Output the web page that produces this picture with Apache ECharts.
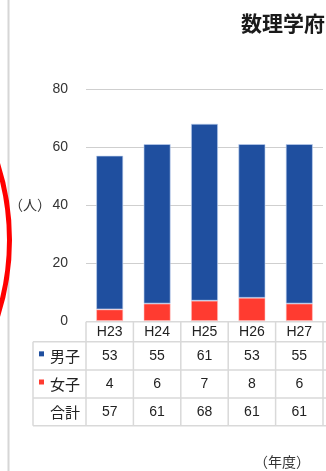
<!DOCTYPE html>
<html>
<head>
<meta charset="utf-8">
<script src="https://cdn.jsdelivr.net/npm/echarts@6/dist/echarts.min.js"></script>
<style>
  html, body { margin: 0; padding: 0; background: #fff; overflow: hidden; }
  #chart { width: 326px; height: 471px; }
</style>
</head>
<body>
<div id="chart"></div>
<script>
// Enrolment by year (persons)
const categories = ['H23', 'H24', 'H25', 'H26', 'H27'];
const maleValues = [53, 55, 61, 53, 55];
const femaleValues = [4, 6, 7, 8, 6];
const totalValues = [57, 61, 68, 61, 61];
const rowLabels = ['男子', '女子', '合計'];
const yTicks = { min: 0, max: 80, step: 20 };

const BLUE = '#1f4f9f';
const RED = '#ff3b30';
const FONT = '"Liberation Sans", "Noto Sans CJK JP", sans-serif';
const CJK = '"Noto Sans CJK JP", sans-serif';

const gridLeft = 86, gridTop = 89, gridWidth = 237, gridHeight = 232;

const chart = echarts.init(document.getElementById('chart'), null, { renderer: 'canvas' });

chart.setOption({
  animation: false,
  backgroundColor: '#fff',
  grid: { left: gridLeft, top: gridTop, width: gridWidth, height: gridHeight, containLabel: false },
  xAxis: {
    type: 'category',
    data: categories,
    axisLine: { show: false },
    axisTick: { show: false },
    axisLabel: { show: false }
  },
  yAxis: {
    type: 'value',
    min: yTicks.min,
    max: yTicks.max,
    interval: yTicks.step,
    axisLine: { show: false },
    axisTick: { show: false },
    axisLabel: { color: '#333', fontSize: 14, fontFamily: FONT, margin: 18 },
    splitLine: { lineStyle: { color: '#cfcfcf', width: 1.2 } }
  },
  series: [
    {
      name: '女子', type: 'bar', stack: 'total', data: femaleValues, barWidth: 27,
      itemStyle: { color: RED, borderColor: 'rgba(255,200,200,0.7)', borderWidth: 0.8 }
    },
    {
      name: '男子', type: 'bar', stack: 'total', data: maleValues, barWidth: 27,
      itemStyle: { color: BLUE, borderColor: 'rgba(190,210,240,0.8)', borderWidth: 0.8 }
    }
  ]
});

// Data table under the plot, aligned with the category columns
const colW = gridWidth / categories.length;
const rowEdges = [321.7, 341.7, 370, 398, 425.7];
const tableLeft = 33;
const lineStyle = { stroke: '#d9d9d9', lineWidth: 1.5 };
const graphics = [];

// frame line on the left edge
graphics.push({ type: 'line', shape: { x1: 8.5, y1: 0, x2: 8.5, y2: 471 }, style: { stroke: '#d6d6d6', lineWidth: 2 }, silent: true });

// horizontal rules
rowEdges.forEach((y, i) => {
  graphics.push({ type: 'line', shape: { x1: i === 0 ? gridLeft : tableLeft, y1: y, x2: 326, y2: y }, style: lineStyle, silent: true });
});
// vertical rules
graphics.push({ type: 'line', shape: { x1: tableLeft, y1: rowEdges[1], x2: tableLeft, y2: rowEdges[4] }, style: lineStyle, silent: true });
for (let i = 0; i <= categories.length; i++) {
  const x = gridLeft + i * colW;
  graphics.push({ type: 'line', shape: { x1: x, y1: rowEdges[0], x2: x, y2: rowEdges[4] }, style: lineStyle, silent: true });
}

const rows = [categories, maleValues, femaleValues, totalValues];
rows.forEach((vals, r) => {
  const yc = (rowEdges[r] + rowEdges[r + 1]) / 2;
  vals.forEach((v, i) => {
    const xc = chart.convertToPixel({ xAxisIndex: 0 }, categories[i]);
    graphics.push({
      type: 'text', x: xc, y: yc, silent: true,
      style: { text: String(v), fill: '#222', font: '14px ' + FONT, align: 'center', verticalAlign: 'middle' }
    });
  });
  if (r > 0) {
    graphics.push({
      type: 'text', x: 80, y: yc, silent: true,
      style: { text: rowLabels[r - 1], fill: '#222', font: '15px ' + CJK, align: 'right', verticalAlign: 'middle' }
    });
  }
});
// legend keys beside the row labels
[[BLUE, 1], [RED, 2]].forEach(([c, r]) => {
  const yc = (rowEdges[r] + rowEdges[r + 1]) / 2;
  graphics.push({ type: 'rect', shape: { x: 39, y: yc - 4.5, width: 5, height: 5 }, style: { fill: c }, silent: true });
});

// titles and unit labels
graphics.push({
  type: 'text', x: 325, y: 23, silent: true,
  style: { text: '数理学府', fill: '#1a1a1a', font: 'bold 21px ' + CJK, align: 'right', verticalAlign: 'middle' }
});
graphics.push({
  type: 'text', x: 30, y: 205, silent: true,
  style: { text: '（人）', fill: '#333', font: '14px ' + CJK, align: 'center', verticalAlign: 'middle' }
});
graphics.push({
  type: 'text', x: 282, y: 462, silent: true,
  style: { text: '（年度）', fill: '#333', font: '14px ' + CJK, align: 'center', verticalAlign: 'middle' }
});

// red marker ring (right edge of an oval that continues off the left side)
graphics.push({
  type: 'circle', shape: { cx: -240.5, cy: 240, r: 250 }, silent: true, z: 100,
  style: { fill: 'none', stroke: '#ff0000', lineWidth: 5 }
});

chart.setOption({ graphic: { elements: graphics } });
</script>
</body>
</html>
